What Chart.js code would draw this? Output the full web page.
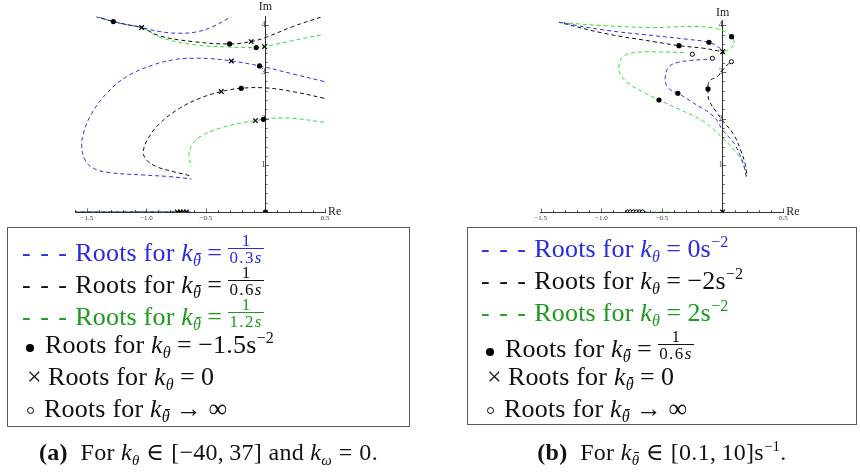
<!DOCTYPE html>
<html>
<head>
<meta charset="utf-8">
<script src="https://cdn.jsdelivr.net/npm/chart.js@4.4.1/dist/chart.umd.min.js"></script>
<style>
  body { margin: 0; width: 860px; height: 475px; background: #fff; position: relative; overflow: hidden;
         font-family: "Liberation Serif", "DejaVu Serif", serif; color: #111; }
  .plot { position: absolute; top: 0; }
  .legend { position: absolute; top: 227px; border: 1.5px solid #5a5a5a; box-sizing: border-box; }
  .row { position: absolute; height: 32px; line-height: 32px; font-size: 26px; letter-spacing: 0.2px; white-space: nowrap; }
  .row sub, .cap sub { font-size: 0.62em; vertical-align: -0.32em; font-style: italic; line-height: 0; }
  .row sup, .cap sup { font-size: 0.62em; vertical-align: 0.62em; line-height: 0; }
  .tb { position: relative; display: inline-block; line-height: 1; }
  .tb::after { content: ""; position: absolute; left: 0.18em; right: 0.02em; top: -0.02em; border-top: 1px solid currentColor; }
  .eq { margin: 0 0.24em; }
  .frac { display: inline-block; vertical-align: -0.12em; text-align: center; font-size: 17px; line-height: 15px; }
  .frac span { display: block; }
  .frac .den { border-top: 1px solid currentColor; padding: 1px 1px 0; letter-spacing: 1.4px; }
  .dash { letter-spacing: 1.5px; }
  .dot { display: inline-block; width: 8px; height: 8px; border-radius: 50%; background: #000; vertical-align: 1px; margin-right: 11px; }
  .ring { display: inline-block; width: 5px; height: 5px; border: 1px solid #000; border-radius: 50%; vertical-align: 3px; margin-right: 10px; }
  .cross { display: inline-block; margin-right: 6px; }
  .blue { color: #2a2ae0; }
  .green { color: #1e9a1e; }
  .cap { position: absolute; top: 437px; font-size: 24px; line-height: 30px; text-align: center; white-space: nowrap; letter-spacing: 0.3px; }
  .cap .eq { margin: 0 0.28em; }
</style>
</head>
<body>
<div class="plot" style="left:50px;width:310px;height:228px"><canvas id="leftPlot" width="310" height="228"></canvas></div>
<div class="plot" style="left:500px;width:320px;height:228px"><canvas id="rightPlot" width="320" height="228"></canvas></div>

<div class="legend" style="left:7px;width:403px;height:200px">
  <div class="row blue" style="top:5px;left:14px"><span class="dash">- - -</span> Roots for <i>k</i><sub><span class="tb">θ</span></sub><span class="eq">=</span><span class="frac"><span>1</span><span class="den">0.3<i>s</i></span></span></div>
  <div class="row" style="top:37px;left:14px"><span class="dash">- - -</span> Roots for <i>k</i><sub><span class="tb">θ</span></sub><span class="eq">=</span><span class="frac"><span>1</span><span class="den">0.6<i>s</i></span></span></div>
  <div class="row green" style="top:69px;left:14px"><span class="dash">- - -</span> Roots for <i>k</i><sub><span class="tb">θ</span></sub><span class="eq">=</span><span class="frac"><span>1</span><span class="den">1.2<i>s</i></span></span></div>
  <div class="row" style="top:101px;left:18px"><span class="dot"></span>Roots for <i>k</i><sub>θ</sub><span class="eq">=</span>−1.5s<sup>−2</sup></div>
  <div class="row" style="top:133px;left:19px"><span class="cross">×</span>Roots for <i>k</i><sub>θ</sub><span class="eq">=</span>0</div>
  <div class="row" style="top:165px;left:19px"><span class="ring"></span>Roots for <i>k</i><sub><span class="tb">θ</span></sub><span class="eq">→</span>∞</div>
</div>

<div class="legend" style="left:467px;width:390px;height:198px">
  <div class="row blue" style="top:5px;left:13px"><span class="dash">- - -</span> Roots for <i>k</i><sub>θ</sub><span class="eq">=</span>0s<sup>−2</sup></div>
  <div class="row" style="top:37px;left:13px"><span class="dash">- - -</span> Roots for <i>k</i><sub>θ</sub><span class="eq">=</span>−2s<sup>−2</sup></div>
  <div class="row green" style="top:69px;left:13px"><span class="dash">- - -</span> Roots for <i>k</i><sub>θ</sub><span class="eq">=</span>2s<sup>−2</sup></div>
  <div class="row" style="top:101px;left:18px"><span class="dot"></span>Roots for <i>k</i><sub><span class="tb">θ</span></sub><span class="eq">=</span><span class="frac"><span>1</span><span class="den">0.6<i>s</i></span></span></div>
  <div class="row" style="top:133px;left:19px"><span class="cross">×</span>Roots for <i>k</i><sub><span class="tb">θ</span></sub><span class="eq">=</span>0</div>
  <div class="row" style="top:165px;left:19px"><span class="ring"></span>Roots for <i>k</i><sub><span class="tb">θ</span></sub><span class="eq">→</span>∞</div>
</div>

<div class="cap" style="left:7px;width:403px"><b>(a)</b>&nbsp; For <i>k</i><sub>θ</sub><span class="eq">∈</span>[−40,&thinsp;37] and <i>k</i><sub>ω</sub><span class="eq">=</span>0.</div>
<div class="cap" style="left:467px;width:390px"><b>(b)</b>&nbsp; For <i>k</i><sub><span class="tb">θ</span></sub><span class="eq">∈</span>[0.1,&thinsp;10]s<sup>−1</sup>.</div>

<script>
// (a) root loci over k_theta, one pair of branches per k_theta_bar
const leftBlueUpper = [[-1.423, 4.183], [-1.278, 4.076], [-1.166, 4.011], [-1.040, 3.947], [-0.887, 3.861],
  [-0.734, 3.826], [-0.580, 3.854], [-0.441, 3.969], [-0.287, 4.183]];
const leftBlackUpper = [[-1.423, 4.183], [-1.278, 4.076], [-1.166, 4.011], [-1.040, 3.947], [-0.887, 3.769],
  [-0.608, 3.647], [-0.301, 3.597], [-0.120, 3.647], [0.006, 3.740], [0.229, 3.969], [0.480, 4.183]];
const leftGreenUpper = [[-1.423, 4.183], [-1.278, 4.076], [-1.166, 4.011], [-1.040, 3.947], [-0.887, 3.740],
  [-0.608, 3.583], [-0.329, 3.533], [-0.078, 3.519], [-0.008, 3.540], [0.229, 3.669], [0.494, 3.804]];
const leftBlueLower = [[0.494, 2.791], [0.229, 2.955], [-0.050, 3.126], [-0.287, 3.233], [-0.469, 3.283],
  [-0.608, 3.290], [-0.748, 3.269], [-0.943, 3.148], [-1.166, 2.898], [-1.333, 2.541], [-1.459, 2.113],
  [-1.529, 1.684], [-1.543, 1.399], [-1.515, 1.113], [-1.445, 0.935], [-1.305, 0.842], [-1.026, 0.792],
  [-0.803, 0.757], [-0.622, 0.707]];
const leftBlackLower = [[0.494, 2.434], [0.229, 2.577], [0.006, 2.655], [-0.204, 2.648], [-0.371, 2.577],
  [-0.552, 2.434], [-0.720, 2.220], [-0.887, 1.899], [-0.985, 1.577], [-1.026, 1.292], [-0.999, 1.113],
  [-0.915, 0.971], [-0.775, 0.864], [-0.636, 0.778]];
const leftGreenLower = [[0.494, 1.920], [0.229, 2.006], [0.061, 2.006], [-0.017, 1.984], [-0.084, 1.956],
  [-0.218, 1.899], [-0.385, 1.792], [-0.524, 1.649], [-0.608, 1.470], [-0.642, 1.221], [-0.622, 0.971]];
const leftBlueReal = [[-1.6, 0], [-0.62, 0]];
const leftBlackReal = [[-1.6, 0], [-0.64, 0]];
const leftGreenReal = [[-1.6, 0], [-0.66, 0]];
const leftDots = [[-1.278, 4.076], [-0.301, 3.597], [-0.078, 3.519], [-0.050, 3.126], [-0.204, 2.648],
  [-0.017, 1.984], [0, 0]];
const leftCrosses = [[-1.040, 3.947], [-0.120, 3.647], [-0.008, 3.540], [-0.287, 3.233], [-0.371, 2.577],
  [-0.084, 1.956], [-0.74, 0], [-0.715, 0], [-0.69, 0], [-0.665, 0]];

// (b) root loci over k_theta_bar, one pair of branches per k_theta
const rightBlueUpper = [[-1.350, 4.062], [-0.979, 3.897], [-0.566, 3.775], [-0.291, 3.698], [-0.113, 3.634],
  [-0.049, 3.555], [-0.016, 3.490], [0, 3.433]];
const rightBlackUpper = [[-1.350, 4.062], [-0.979, 3.827], [-0.566, 3.647], [-0.360, 3.561], [-0.154, 3.505],
  [-0.044, 3.454], [0, 3.433]];
const rightGreenUpper = [[-1.350, 4.062], [-1.006, 3.994], [-0.594, 3.951], [-0.239, 3.972], [-0.082, 3.940],
  [0.016, 3.865], [0.074, 3.754], [0.095, 3.619], [0.066, 3.501], [0.008, 3.437]];
const rightBlueLower = [[-0.126, 3.270], [-0.264, 3.244], [-0.371, 3.201], [-0.443, 3.111], [-0.470, 2.934],
  [-0.470, 2.756], [-0.429, 2.612], [-0.369, 2.542], [-0.237, 2.328], [-0.072, 2.041], [0, 1.756],
  [0.093, 1.471], [0.148, 1.184], [0.181, 0.936], [0.195, 0.749]];
const rightBlackLower = [[0.052, 3.184], [0, 3.041], [-0.044, 2.897], [-0.099, 2.827], [-0.121, 2.719],
  [-0.121, 2.634], [-0.113, 2.398], [-0.044, 2.113], [0, 1.959], [0.093, 1.649], [0.148, 1.328],
  [0.184, 1.043], [0.198, 0.829]];
const rightGreenLower = [[-0.319, 3.411], [-0.511, 3.426], [-0.703, 3.420], [-0.814, 3.340], [-0.855, 3.148],
  [-0.841, 2.934], [-0.758, 2.719], [-0.635, 2.542], [-0.525, 2.398], [-0.346, 2.184], [-0.154, 1.934],
  [0, 1.585], [0.093, 1.328], [0.162, 1.077], [0.190, 0.829], [0.198, 0.749]];
const rightBlueReal = [[-0.78, 0], [-0.62, 0]];
const rightBlackReal = [[-0.79, 0], [-0.66, 0]];
const rightGreenReal = [[-0.78, 0], [-0.44, 0]];
const rightDots = [[0.074, 3.754], [-0.113, 3.634], [-0.360, 3.561], [-0.369, 2.542], [-0.121, 2.634],
  [-0.525, 2.398]];
const rightCrosses = [[0, 3.433], [0, 0]];
const rightCircles = [[-0.250, 3.377], [-0.085, 3.291], [0.072, 3.218], [-0.785, 0], [-0.76, 0],
  [-0.735, 0], [-0.71, 0], [-0.685, 0], [-0.66, 0]];

// tick labels shown on the axes
const reTickLabels = [-1.5, -1.0, -0.5, 0.5];
const imTickLabels = [1, 2, 3, 4];

const BLUE = "#2e2ef5";
const BLACK = "#111111";
const GREEN = "#2ee02e";

const toXY = (pts) => pts.map(([x, y]) => ({ x, y }));
const near = (a, b) => Math.abs(a - b) < 1e-6;

function locus(pts, color, offset) {
  return {
    data: toXY(pts),
    showLine: true,
    borderColor: color,
    borderWidth: 1,
    borderDash: [4, 3],
    borderDashOffset: offset || 0,
    pointRadius: 0,
    tension: 0.4,
    fill: false,
    order: 2,
  };
}

function markers(pts, style) {
  const base = { data: toXY(pts), showLine: false, order: 0, pointBorderColor: "#000" };
  if (style === "dot") return { ...base, pointStyle: "circle", pointRadius: 2.6, pointBackgroundColor: "#000", pointBorderWidth: 0 };
  if (style === "cross") return { ...base, pointStyle: "crossRot", pointRadius: 3.2, pointBorderWidth: 1.3 };
  return { ...base, pointStyle: "circle", pointRadius: 2.1, pointBackgroundColor: "#fff", pointBorderWidth: 1 };
}

// small tick marks on the crossing axes plus the Re / Im names
const axisDecor = {
  id: "axisDecor",
  afterDraw(chart, args, opts) {
    const { ctx } = chart;
    const xs = chart.scales.x;
    const ys = chart.scales.y;
    const x0 = xs.getPixelForValue(0);
    const y0 = ys.getPixelForValue(0);
    ctx.save();
    ctx.strokeStyle = "#333";
    ctx.lineWidth = 0.8;
    ctx.beginPath();
    xs.ticks.forEach((t) => {
      if (near(t.value, 0)) return;
      const px = Math.round(xs.getPixelForValue(t.value)) + 0.5;
      const len = near(t.value * 2, Math.round(t.value * 2)) ? 3.5 : 2;
      ctx.moveTo(px, y0);
      ctx.lineTo(px, y0 - len);
    });
    ys.ticks.forEach((t) => {
      if (near(t.value, 0)) return;
      const py = Math.round(ys.getPixelForValue(t.value)) + 0.5;
      const len = near(t.value, Math.round(t.value)) ? 3.5 : 2;
      ctx.moveTo(x0, py);
      ctx.lineTo(x0 + len, py);
    });
    ctx.stroke();
    ctx.fillStyle = "#222";
    ctx.font = '12px "Liberation Serif"';
    ctx.textBaseline = "middle";
    ctx.textAlign = "left";
    ctx.fillText("Re", xs.right + 3, y0);
    ctx.textAlign = "center";
    ctx.fillText("Im", x0, ys.top - opts.imGap);
    ctx.restore();
  },
};

function buildPlot(id, datasets, xMin, xMax, yMax, padding, imGap) {
  new Chart(document.getElementById(id), {
    type: "scatter",
    data: { datasets },
    options: {
      responsive: false,
      animation: false,
      events: [],
      layout: { padding },
      plugins: { legend: { display: false }, tooltip: { enabled: false }, axisDecor: { imGap } },
      scales: {
        x: {
          type: "linear",
          min: xMin,
          max: xMax,
          position: { y: 0 },
          grid: { display: false, drawTicks: false },
          border: { display: true, color: "#333", width: 1 },
          ticks: {
            stepSize: 0.1,
            autoSkip: false,
            maxRotation: 0,
            includeBounds: false,
            padding: 2,
            color: "#333",
            font: { family: "Liberation Serif", size: 7 },
            callback: (v) => {
              const hit = reTickLabels.find((r) => near(r, v));
              if (hit === undefined) return "";
              return (hit < 0 ? "\u2212" : "") + Math.abs(hit).toFixed(1);
            },
          },
        },
        y: {
          type: "linear",
          min: 0,
          max: yMax,
          position: { x: 0 },
          grid: { display: false, drawTicks: false },
          border: { display: true, color: "#333", width: 1 },
          ticks: {
            stepSize: 0.2,
            autoSkip: false,
            includeBounds: false,
            padding: 1,
            color: "#333",
            font: { family: "Liberation Serif", size: 8 },
            callback: (v) => {
              const hit = imTickLabels.find((r) => near(r, v));
              return hit === undefined ? "" : String(hit);
            },
          },
        },
      },
    },
    plugins: [axisDecor],
  });
}

buildPlot("leftPlot", [
  markers(leftDots, "dot"),
  markers(leftCrosses, "cross"),
  locus(leftBlueUpper, BLUE),
  locus(leftBlackUpper, BLACK, 2),
  locus(leftGreenUpper, GREEN, 4),
  locus(leftBlueLower, BLUE),
  locus(leftBlackLower, BLACK),
  locus(leftGreenLower, GREEN),
  locus(leftBlueReal, BLUE),
  locus(leftBlackReal, BLACK, 2),
  locus(leftGreenReal, GREEN, 4),
], -1.6, 0.5, 4.18, { left: 25, right: 35, top: 16.7, bottom: 16 }, 10);

buildPlot("rightPlot", [
  markers(rightCircles, "ring"),
  markers(rightDots, "dot"),
  markers(rightCrosses, "cross"),
  locus(rightBlueUpper, BLUE),
  locus(rightBlackUpper, BLACK, 2),
  locus(rightGreenUpper, GREEN, 4),
  locus(rightBlueLower, BLUE),
  locus(rightBlackLower, BLACK),
  locus(rightGreenLower, GREEN),
  locus(rightBlueReal, BLUE),
  locus(rightBlackReal, BLACK, 2),
  locus(rightGreenReal, GREEN, 4),
], -1.5, 0.5, 4.1, { left: 40.7, right: 36.7, top: 20.5, bottom: 16 }, 8);
</script>
</body>
</html>
